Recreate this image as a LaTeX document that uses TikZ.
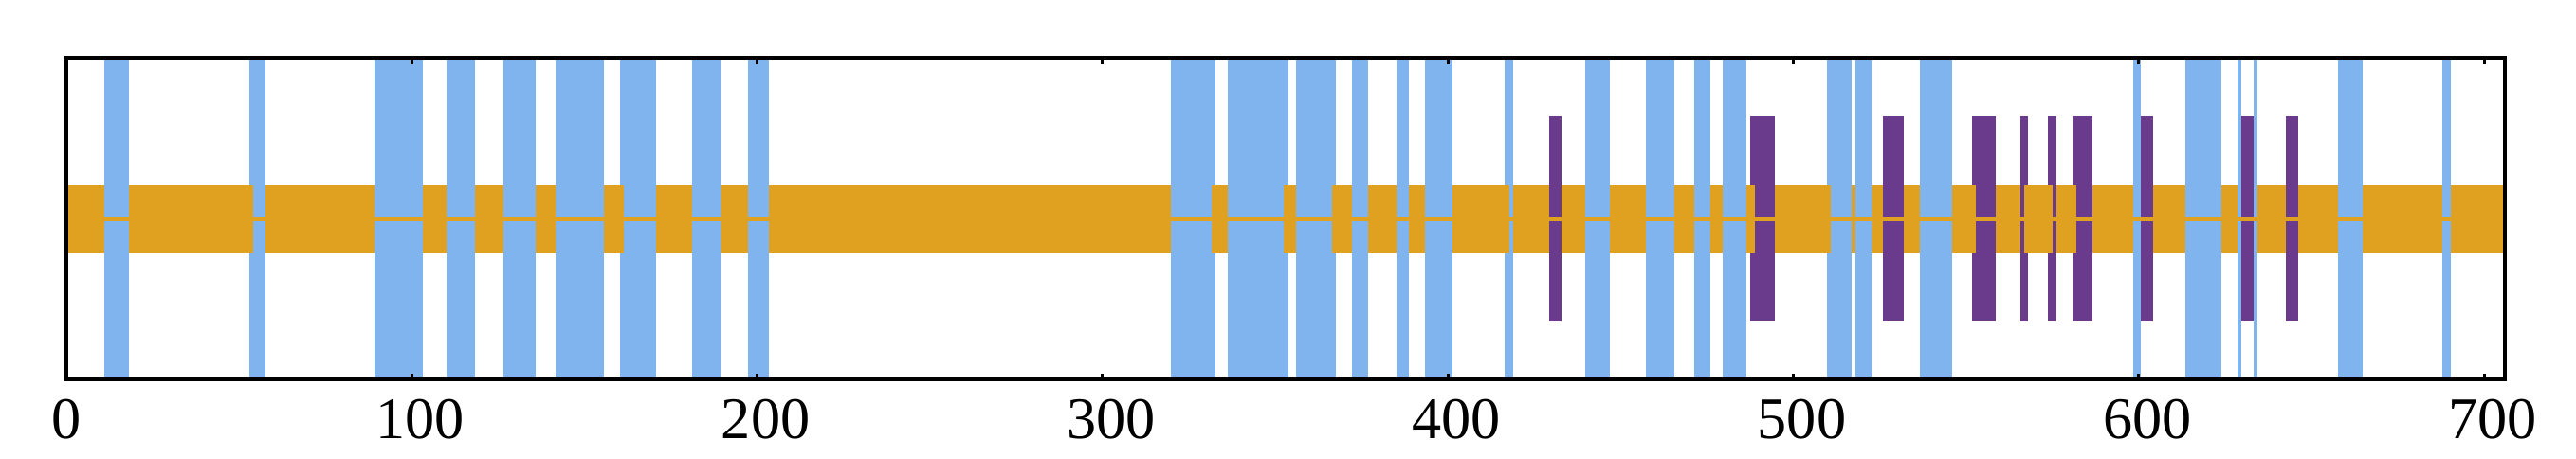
\documentclass[tikz,border=0pt]{standalone}
\usepackage{fontspec}
\setmainfont{Liberation Serif}
\definecolor{barblue}{RGB}{128,180,238}
\definecolor{bandorange}{RGB}{224,160,32}
\definecolor{sitepurple}{RGB}{106,58,141}

\begin{document}
\begin{tikzpicture}[x=0.03643cm, y=0.01cm,
      bluebar/.style={fill=barblue},
      purplebar/.style={fill=sitepurple},
      seqband/.style={fill=bandorange},
      every node/.append style={font=\fontsize{17.7}{20}\selectfont, inner sep=0pt, anchor=base}]
    \useasboundingbox (-19.215,-253) rectangle (726.6,231);
    \foreach \a/\b in {11/18.1, 53/57.6, 89.2/103.2, 110.1/118.3, 126.5/135.9, 141.6/155.6,
        160.3/170.7, 181.2/189.4, 197.4/203.4, 319.8/332.7, 336.3/353.8, 356/367.6,
        372.2/376.9, 385.1/388.7, 393.4/401.3, 416.4/418.9, 439.7/446.9, 457.3/465.6,
        471.3/476, 479.6/486.4, 509.7/516.9, 518/522.6, 536.6/546, 598.4/600.6,
        613.5/623.9, 628.6/629.7, 633.3/634.4, 657.7/664.8, 687.9/690.4}
      \fill[bluebar] (\a,-169.5) rectangle (\b,169.5);
    \foreach \a/\b in {429.3/432.9, 487.5/494.6, 525.9/532, 551.7/558.6, 565.7/567.9,
        573.7/576.2, 580.8/586.6, 600.6/604.2, 629.7/633.3, 642.6/646.2}
      \fill[purplebar] (\a,-108.5) rectangle (\b,108.5);
    \foreach \a/\b in {0/11, 18.1/54.1, 57.6/89.2, 103.2/110.1, 118.3/126.5, 135.9/141.6,
        155.6/161.5, 170.7/181.2, 189.4/197.4, 203.4/319.8, 331.6/336.3, 352.5/356,
        366.4/372.2, 376.9/385.1, 388.7/393.4, 401.3/417.8, 418.9/429.3, 432.9/439.7,
        446.9/457.3, 465.5/471.3, 476/479.6, 486.4/488.8, 494.6/510.8, 516.9/518,
        522.6/525.9, 532/536.6, 546/552.8, 558.6/565.7, 566.8/575.1, 576.2/581.9,
        586.6/598.4, 604.2/613.5, 623.9/628.6, 634.4/642.6, 646.2/657.7, 664.8/687.9,
        690.4/706}
      \fill[seqband] (\a,-36) rectangle (\b,36);
    \fill[seqband] (0,-2) rectangle (706,2);
    \draw[line width=0.04cm] (0,-169.5) rectangle (706,169.5);
    \foreach \t in {0,100,...,700}
      \draw[line width=0.03cm] (\t,169.5) -- (\t,163) (\t,-169.5) -- (\t,-163);
    \node (l0) at (0,-232) {0};
    \foreach \t in {100,200,...,700}
      \node[xshift=0.09cm] (l\t) at (\t,-232) {\t};
\end{tikzpicture}
\end{document}
